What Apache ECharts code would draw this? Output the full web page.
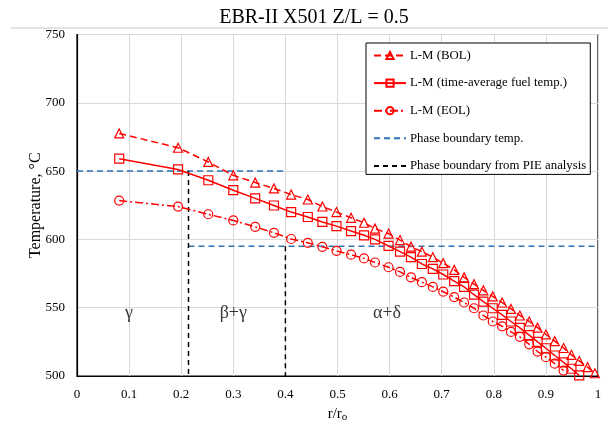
<!DOCTYPE html>
<html>
<head>
<meta charset="utf-8">
<script src="https://cdn.jsdelivr.net/npm/echarts@6/dist/echarts.min.js"></script>
<style>
html,body{margin:0;padding:0;background:#fff;}
#chart{width:608px;height:428px;}
</style>
</head>
<body>
<div id="chart"></div>
<script>
// r/ro positions of the calculated points
var radius = [0.081, 0.194, 0.252, 0.300, 0.342, 0.378, 0.411, 0.443, 0.471, 0.498, 0.526, 0.551,
  0.572, 0.598, 0.620, 0.641, 0.662, 0.683, 0.703, 0.724, 0.743, 0.762, 0.780, 0.798, 0.816,
  0.833, 0.850, 0.868, 0.884, 0.900, 0.917, 0.934, 0.949, 0.964, 0.980, 0.994];
var tempBOL = [677.6, 667.1, 656.7, 646.9, 641.6, 637.3, 632.8, 629.2, 624.1, 620.0, 615.8, 612.2,
  607.9, 604.3, 599.5, 594.7, 591.0, 587.0, 582.6, 577.7, 572.2, 567.2, 562.7, 558.3, 553.8,
  549.1, 544.3, 539.9, 535.4, 530.4, 525.5, 520.5, 515.5, 511.0, 506.5, 502.0];
var tempAvg = [659.1, 651.2, 643.3, 636.0, 630.0, 624.8, 620.0, 616.4, 612.8, 609.7, 606.1, 603.0,
  600.0, 595.2, 591.1, 587.0, 582.0, 578.4, 574.3, 569.5, 565.2, 559.5, 554.4, 549.6, 544.8,
  539.9, 535.2, 529.9, 525.0, 520.3, 515.0, 510.0, 505.3, 500.4];
var tempEOL = [628.4, 624.0, 618.4, 613.9, 609.2, 604.8, 600.3, 597.5, 594.6, 591.6, 588.8, 586.1,
  583.1, 579.6, 576.2, 572.2, 568.7, 565.2, 561.7, 557.8, 553.8, 549.6, 544.3, 539.9, 536.4,
  532.3, 528.7, 523.2, 517.9, 513.8, 509.0, 504.0];
// phase boundary temperature segments: [r, T]
var phaseTempLine = [[0, 650], [0.4, 650], [0.214, '-'], [0.214, 595], [1, 595]];
// phase boundary from PIE analysis
var pieLine = [[0.214, 650], [0.214, 500], [0.4, '-'], [0.4, 595], [0.4, 500]];
var phaseLabels = [['γ', 0.1, 546], ['β+γ', 0.3, 546], ['α+δ', 0.595, 546]];
var seriesNames = ['L-M (BOL)', 'L-M (time-average fuel temp.)', 'L-M (EOL)',
  'Phase boundary temp.', 'Phase boundary from PIE analysis'];
var xTicks = [0, 0.1, 0.2, 0.3, 0.4, 0.5, 0.6, 0.7, 0.8, 0.9, 1];
var yTicks = [500, 550, 600, 650, 700, 750];

function pairs(xs, ys) { return ys.map(function (v, i) { return [xs[i], v]; }); }

var serif = 'Liberation Serif';
var red = '#ff0000';
var hollow = { color: 'rgba(255,255,255,0)', borderColor: red, borderWidth: 1.2 };
var noMark = { color: 'rgba(0,0,0,0)', borderColor: 'rgba(0,0,0,0)', borderWidth: 0 };

var chart = echarts.init(document.getElementById('chart'), null, { renderer: 'canvas' });
chart.setOption({
  animation: false,
  backgroundColor: '#fff',
  textStyle: { fontFamily: serif },
  title: {
    text: 'EBR-II X501 Z/L = 0.5',
    left: 309, textAlign: 'center', top: 3,
    textStyle: { fontFamily: serif, fontSize: 20, fontWeight: 'normal', color: '#000' }
  },
  graphic: [{
    type: 'line', silent: true,
    shape: { x1: 11, y1: 28, x2: 608, y2: 28 },
    style: { stroke: '#c8c8c8', lineWidth: 1 }
  }],
  grid: { left: 77, right: 10, top: 34.5, bottom: 46.5, show: true, borderColor: '#000', borderWidth: 1.2, backgroundColor: 'transparent' },
  legend: {
    orient: 'vertical', left: 366, top: 43,
    data: [
      { name: seriesNames[0] },
      { name: seriesNames[1] },
      { name: seriesNames[2] },
      { name: seriesNames[3], itemStyle: noMark },
      { name: seriesNames[4], itemStyle: noMark }
    ],
    itemWidth: 32, itemHeight: 9, itemGap: 14.6,
    padding: [6, 4, 2, 7],
    backgroundColor: '#fff', borderColor: '#000', borderWidth: 1,
    textStyle: { fontFamily: serif, fontSize: 12.8, color: '#000', padding: [0, 0, 0, -1] },
    selectedMode: false
  },
  xAxis: {
    type: 'value', min: 0, max: 1, interval: 0.1,
    name: 'r/r{s|o}', nameLocation: 'middle', nameGap: 30, nameMoveOverlap: false,
    nameTextStyle: { fontFamily: serif, fontSize: 15, color: '#000',
      rich: { s: { fontFamily: serif, fontSize: 11, color: '#000', verticalAlign: 'bottom', padding: [6, 0, 0, 0] } } },
    axisLine: { show: true, lineStyle: { color: '#000', width: 1.2 } },
    axisTick: { show: false },
    splitLine: { show: true, lineStyle: { color: '#d9d9d9', width: 1 } },
    axisLabel: { fontFamily: serif, fontSize: 13, color: '#000', margin: 12,
      formatter: function (v) { return xTicks.indexOf(Math.round(v * 10) / 10) >= 0 ? String(Math.round(v * 10) / 10) : ''; } }
  },
  yAxis: {
    type: 'value', min: 500, max: 750, interval: 50,
    name: 'Temperature, °C', nameLocation: 'middle', nameGap: 33, nameMoveOverlap: false,
    nameTextStyle: { fontFamily: serif, fontSize: 16, color: '#000' },
    axisLine: { show: true, lineStyle: { color: '#000', width: 1.2 } },
    axisTick: { show: false },
    splitLine: { show: true, lineStyle: { color: '#d9d9d9', width: 1 } },
    axisLabel: { fontFamily: serif, fontSize: 13, color: '#000', margin: 12,
      formatter: function (v) { return yTicks.indexOf(v) >= 0 ? String(v) : ''; } }
  },
  series: [
    {
      name: seriesNames[3], type: 'line', silent: true, symbol: 'none', connectNulls: false, z: 2,
      data: phaseTempLine,
      lineStyle: { color: '#2e75b6', width: 1.5, type: [6, 4] },
      itemStyle: { color: '#2e75b6' }
    },
    {
      name: seriesNames[4], type: 'line', silent: true, symbol: 'none', connectNulls: false, z: 2,
      data: pieLine,
      lineStyle: { color: '#000', width: 1.5, type: [5, 4] },
      itemStyle: { color: '#000' }
    },
    {
      name: seriesNames[0], type: 'line', silent: true, symbol: 'triangle', symbolSize: 9, z: 3,
      data: pairs(radius, tempBOL),
      lineStyle: { color: red, width: 1.5, type: [7, 4] },
      itemStyle: hollow
    },
    {
      name: seriesNames[1], type: 'line', silent: true, symbol: 'rect', symbolSize: 9, z: 3,
      data: pairs(radius, tempAvg),
      lineStyle: { color: red, width: 1.5, type: 'solid' },
      itemStyle: hollow
    },
    {
      name: seriesNames[2], type: 'line', silent: true, symbol: 'circle', symbolSize: 9, z: 3,
      data: pairs(radius, tempEOL),
      lineStyle: { color: red, width: 1.5, type: [8, 3, 2, 3] },
      itemStyle: hollow
    },
    {
      name: 'phase', type: 'scatter', silent: true, symbolSize: 1, z: 4,
      data: phaseLabels.map(function (p) { return { name: p[0], value: [p[1], p[2]] }; }),
      itemStyle: { color: 'rgba(0,0,0,0)' },
      label: { show: true, position: 'inside', formatter: function (p) { return p.name; },
        fontFamily: serif, fontSize: 18, color: '#000' }
    }
  ]
});
</script>
</body>
</html>
